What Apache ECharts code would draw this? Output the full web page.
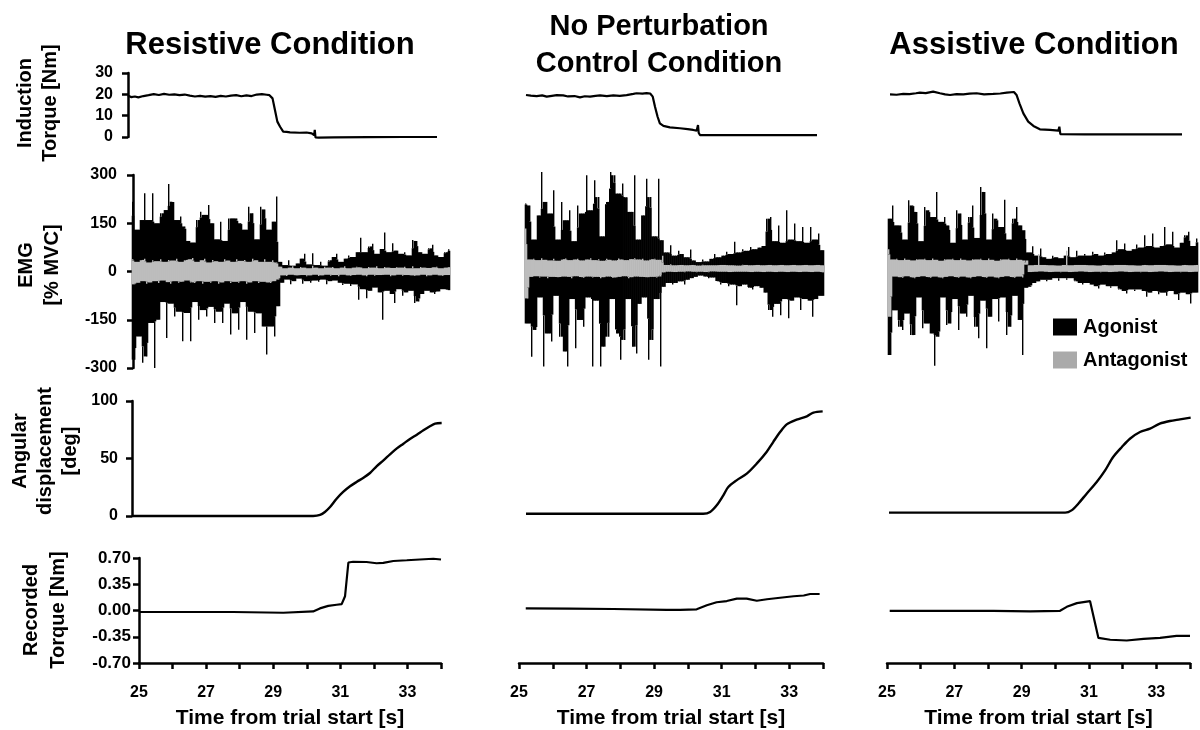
<!DOCTYPE html>
<html><head><meta charset="utf-8">
<script src="https://cdn.jsdelivr.net/npm/echarts@6/dist/echarts.min.js"></script>
<style>html,body{margin:0;padding:0;background:#fff}#c{width:1200px;height:730px}</style>
</head><body><div id="c"></div>
<script>
// ---------- DATA ----------
const conditions = ['Resistive Condition', 'No Perturbation\nControl Condition', 'Assistive Condition'];
const timeTicks = [25, 27, 29, 31, 33];

// Induction torque [Nm]  ([time s, value])
const indResistive = [[25.0,19.3],[25.1,18.7],[25.2,19.0],[25.3,18.6],[25.45,19.2],[25.6,19.6],[25.75,20.1],[25.9,19.7],[26.05,20.2],[26.2,19.8],[26.35,20.0],[26.5,19.6],[26.65,19.9],[26.8,19.4],[26.95,19.0],[27.1,19.3],[27.25,18.9],[27.4,19.2],[27.55,18.8],[27.7,19.3],[27.85,19.0],[28.0,19.4],[28.15,19.6],[28.3,19.1],[28.45,19.5],[28.6,19.2],[28.75,19.9],[28.9,20.1],[29.04,19.8],[29.12,19.6],[29.21,18.1],[29.28,12.7],[29.35,7.2],[29.43,4.8],[29.52,2.5],[29.62,2.4],[29.72,2.2],[30.0,2.0],[30.2,2.1],[30.35,1.7],[30.42,0.9],[30.44,3.3],[30.46,-0.2],[30.55,-0.3],[31.0,-0.2],[32.0,-0.1],[33.0,0],[34.0,0]];
const indControl = [[25.0,19.7],[25.15,19.4],[25.33,19.2],[25.5,19.5],[25.64,18.9],[25.8,19.3],[25.95,19.6],[26.15,19.5],[26.3,19.0],[26.5,19.2],[26.67,18.6],[26.82,19.1],[26.98,18.9],[27.15,19.3],[27.29,19.5],[27.5,19.2],[27.7,19.5],[27.9,19.3],[28.11,19.6],[28.32,20.2],[28.42,20.5],[28.6,20.3],[28.73,20.6],[28.84,20.4],[28.92,18.9],[28.99,14.2],[29.07,9.5],[29.14,6.4],[29.25,5.2],[29.45,4.5],[29.76,4.1],[30.0,3.7],[30.17,3.3],[30.28,3.0],[30.32,5.6],[30.34,2.0],[30.38,0.9],[30.79,0.9],[32.0,0.9],[34.0,0.9]];
const indAssistive = [[25.0,20.0],[25.2,19.8],[25.41,20.2],[25.6,20.1],[25.8,20.5],[25.92,20.8],[26.1,20.6],[26.33,21.25],[26.54,20.5],[26.7,20.0],[26.85,19.7],[27.05,20.1],[27.26,20.0],[27.45,20.3],[27.67,20.5],[27.9,20.0],[28.18,20.2],[28.4,20.4],[28.6,20.8],[28.82,21.1],[28.9,19.7],[28.99,15.8],[29.11,11.1],[29.26,7.2],[29.42,5.2],[29.62,3.6],[29.93,3.3],[30.19,3.0],[30.22,4.8],[30.25,1.3],[30.29,1.25],[31.0,1.25],[32.0,1.25],[34.0,1.25]];

// EMG [% MVC], agonist (black) and antagonist (grey), successive samples
const emgAgoResistive = [217,-274,130,-202,160,-284,243,-264,160,-160,
243,-300,150,-150,181,-95,191,-207,272,-100,
217,-140,160,-125,171,-217,140,-129,95,-217,
90,-95,160,-150,186,-120,176,-140,207,-110,
150,-160,100,-125,155,-160,95,-100,165,-196,
165,-130,165,-181,150,-95,130,-212,201,-125,
181,-191,100,-130,201,-171,193,-258,130,-171,
155,-202,233,-108,
30,-35,20,-25,35,-40,18,-30,25,-22,
40,-38,55,-30,22,-35,57,-28,20,-32,
30,-25,18,-40,35,-30,45,-28,55,-35,
30,-42,40,-38,50,-45,45,-40,60,-88,
105,-55,60,-83,78,-60,86,-50,55,-65,
70,-150,121,-60,60,-70,88,-98,65,-55,
55,-75,60,-65,50,-60,98,-98,95,-93,
60,-70,55,-60,72,-65,83,-70,50,-62,
45,-55,60,-58,69];
const emgAntResistive = [38,-40,30,-35,36,-30,40,-38,28,-34,
35,-30,32,-36,38,-28,30,-33,36,-38,
34,-30,40,-35,30,-32,36,-28,38,-34,
42,-36,30,-30,35,-38,40,-32,28,-35,
36,-30,32,-38,30,-34,38,-30,34,-36,
30,-32,38,-35,33,-30,36,-38,30,-34,
40,-30,35,-36,30,-32,38,-34,30,-36,
35,-30,28,-25,
15,-12,10,-14,12,-10,16,-12,10,-13,
14,-11,12,-15,10,-12,18,-10,12,-14,
10,-12,15,-10,12,-13,14,-11,10,-15,
12,-10,16,-12,10,-14,12,-11,15,-10,
13,-12,10,-15,14,-10,12,-13,16,-11,
10,-12,14,-10,12,-15,11,-12,14,-10,
12,-13,15,-11,10,-12,16,-14,10,-12,
14,-10,12,-15,11,-12,13,-10,15,-12,
10,-14,12,-11,15];
const emgAgoControl = [202,-171,196,-274,90,-191,165,-90,300,-305,
207,-202,171,-227,243,-85,90,-212,207,-258,
150,-305,181,-95,85,-248,196,-160,171,-181,
290,-90,181,-305,274,-100,222,-305,100,-243,
207,-212,300,-95,290,-202,233,-284,264,-222,
222,-95,176,-243,290,-264,90,-110,165,-90,
279,-284,222,-222,100,-95,279,-305,
88,-57,50,-45,72,-50,40,-45,55,-40,
45,-50,35,-35,59,-30,25,-26,20,-22,
28,-25,22,-30,30,-28,45,-40,35,-50,
40,-45,52,-55,45,-50,83,-114,50,-55,
60,-50,55,-60,67,-65,60,-55,65,-60,
70,-75,155,-129,160,-150,85,-110,134,-145,
80,-95,181,-155,90,-100,140,-90,85,-129,
129,-95,80,-100,129,-150,90,-95,109,-85,
57];
const emgAntControl = [124,-93,28,-26,30,-24,26,-28,32,-25,
27,-30,25,-26,30,-28,24,-27,29,-25,
31,-26,26,-30,28,-24,30,-27,25,-29,
28,-25,32,-28,26,-26,29,-30,24,-27,
30,-25,27,-29,25,-28,31,-26,28,-24,
26,-30,29,-27,32,-25,28,-26,30,-28,
25,-27,29,-26,30,-28,27,-25,
40,-12,11,-10,13,-12,10,-11,12,-10,
11,-12,10,-9,12,-10,11,-12,9,-10,
12,-11,10,-12,11,-9,10,-11,12,-10,
11,-10,12,-11,10,-12,11,-10,9,-11,
12,-10,11,-12,10,-11,12,-10,11,-12,
10,-11,12,-10,11,-12,10,-11,12,-10,
11,-12,10,-11,12,-10,11,-12,10,-11,
12,-10,11,-12,10,-11,12,-10,11,-12,
10];
const emgAgoAssistive = [155,-269,196,-130,134,-181,134,-191,90,-140,
212,-207,196,-207,176,-90,85,-186,191,-171,
181,-202,160,-302,238,-212,145,-90,160,-176,
134,-171,80,-95,181,-191,171,-140,90,-150,
160,-85,196,-181,95,-217,253,-100,238,-248,
90,-150,171,-95,155,-165,129,-90,214,-207,
90,-181,155,-85,191,-160,134,-269,119,
-60,50,-57,69,-45,40,-40,62,-35,35,
-40,30,-35,40,-30,35,-38,32,-30,40,
-35,67,-30,35,-40,55,-45,40,-50,45,
-45,40,-50,52,-55,45,-62,40,-50,50,
-55,45,-60,50,-55,88,-65,60,-70,78,
-78,55,-65,60,-70,75,-65,65,-70,103,
-88,70,-75,109,-70,65,-80,70,-75,129,
-85,75,-70,114,-80,65,-98,80,-75,103,
-80,114,-109,70,-75,93];
const emgAntAssistive = [60,-150,28,-25,30,-27,26,-29,31,-24,
27,-28,25,-30,29,-26,28,-24,30,-27,
26,-29,31,-25,27,-28,24,-30,29,-26,
28,-24,30,-27,26,-29,31,-25,27,-28,
25,-30,29,-26,28,-24,30,-27,26,-29,
31,-25,27,-28,24,-30,29,-26,28,-24,
30,-27,26,-29,31,-25,27,-28,25,
12,-11,10,-12,11,-10,45,-9,11,-10,
12,-11,10,-12,11,-10,9,-12,11,-10,
55,-11,10,-12,11,-10,12,-9,11,-10,
12,-11,10,-12,11,-10,9,-12,11,-10,
12,-11,10,-12,11,-10,12,-9,11,-10,
12,-11,10,-12,11,-10,9,-12,11,-10,
12,-11,10,-12,11,-10,12,-9,11,-10,
12,-11,10,-12,11,-10,9,-12,11,-10,
12,-11,10,-12,11,-10];

// Angular displacement [deg]
const angResistive = [[25.0,0],[30.26,0],[30.46,0.9],[30.6,3.5],[30.75,7.8],[30.94,15],[31.13,20.9],[31.33,25.8],[31.52,29.6],[31.72,33.3],[31.91,37.4],[32.1,43.2],[32.3,48.4],[32.49,53.6],[32.68,58.6],[32.88,62.9],[33.07,67],[33.27,70.7],[33.46,74.5],[33.65,78],[33.8,80.3],[33.99,80.9]];
const angControl = [[25.0,2.0],[30.37,2.0],[30.58,3.5],[30.78,9.3],[30.98,18],[31.13,25.2],[31.38,31],[31.69,36.8],[31.99,45.5],[32.29,55.7],[32.49,64.3],[32.7,73],[32.9,79.7],[33.2,83.8],[33.51,86.7],[33.71,89.9],[33.99,91]];
const angAssistive = [[25.0,2.9],[30.25,2.9],[30.44,4.9],[30.64,10.7],[30.89,19.4],[31.19,29.6],[31.44,39.7],[31.68,51.3],[31.94,60],[32.18,67.2],[32.48,73],[32.78,75.9],[33.07,80.3],[33.37,82.6],[33.67,84],[33.99,85.5]];

// Recorded torque [Nm]
const recResistive = [[25.02,-0.02],[26.5,-0.02],[27.8,-0.02],[29.3,-0.03],[30.19,-0.012],[30.39,0.028],[30.64,0.061],[30.89,0.077],[31.04,0.085],[31.14,0.19],[31.24,0.64],[31.38,0.65],[31.78,0.647],[32.08,0.63],[32.28,0.635],[32.58,0.66],[32.98,0.67],[33.37,0.68],[33.77,0.69],[34.0,0.68]];
const recControl = [[25.2,0.028],[26.5,0.025],[27.79,0.02],[29.37,0.008],[29.77,0.008],[30.26,0.016],[30.56,0.069],[30.85,0.11],[31.15,0.126],[31.45,0.159],[31.74,0.159],[32.04,0.13],[32.34,0.15],[32.73,0.17],[33.13,0.19],[33.43,0.2],[33.62,0.22],[33.9,0.22]];
const recAssistive = [[25.08,-0.004],[28.16,-0.004],[29.25,-0.012],[30.14,-0.004],[30.34,0.049],[30.64,0.098],[31.03,0.126],[31.08,0.118],[31.28,-0.366],[31.63,-0.39],[32.12,-0.4],[32.62,-0.378],[33.11,-0.366],[33.6,-0.338],[34.0,-0.338]];

// ---------- LAYOUT ----------
const FONT = '"Liberation Sans", Arial, Helvetica, sans-serif';
const cols = [
  {ind:[128,73,309,64], emg:[133,175,316,193], ang:[132,401,310,115], rec:[139,558,302,115], showY:true,
   indData:indResistive, ago:emgAgoResistive, ant:emgAntResistive, angData:angResistive, recData:recResistive},
  {ind:[526,73,291,64], emg:[526,172,297,193], ang:[526,401,297,115], rec:[519,558,304,115], showY:false,
   indData:indControl, ago:emgAgoControl, ant:emgAntControl, angData:angControl, recData:recControl},
  {ind:[890,73,292,64], emg:[889,172,308,193], ang:[889,401,302,115], rec:[887,558,303,115], showY:false,
   indData:indAssistive, ago:emgAgoAssistive, ant:emgAntAssistive, angData:angAssistive, recData:recAssistive}
];

const grid = [], xAxis = [], yAxis = [], series = [];
const lineBlack = {color:'#000', width:2.5};
const tickStyle = {show:true, length:6, inside:false, lineStyle:{color:'#000', width:2.5}};
const labelStyle = {fontFamily:FONT, fontWeight:'bold', fontSize:16, color:'#000'};

function addGrid(b){ grid.push({left:b[0], top:b[1], width:b[2], height:b[3], containLabel:false}); return grid.length-1; }
function addY(gi, show, min, max, interval, margin, fmt, fs){
  yAxis.push({type:'value', gridIndex:gi, min:min, max:max, interval:interval, show:show,
    axisLine:{show:true, onZero:false, lineStyle:lineBlack}, axisTick:tickStyle,
    axisLabel:Object.assign({}, labelStyle, {margin:margin, formatter:fmt, fontSize:fs||16}), splitLine:{show:false}});
  return yAxis.length-1;
}
function addTimeX(gi, show){
  xAxis.push({type:'value', gridIndex:gi, min:25, max:34, interval:1, show:show,
    axisLine:{show:true, onZero:false, lineStyle:lineBlack}, axisTick:tickStyle,
    axisLabel:Object.assign({margin:22, formatter:v => timeTicks.indexOf(v) >= 0 ? String(v) : ''}, labelStyle),
    splitLine:{show:false},
    name: show ? 'Time from trial start [s]' : '', nameLocation:'middle', nameGap:45,
    nameTextStyle:{fontFamily:FONT, fontWeight:'bold', fontSize:21, color:'#000'}});
  return xAxis.length-1;
}
function addCatX(gi, n){
  const idx = []; for (let i = 0; i < n; i++) idx.push(i);
  xAxis.push({type:'category', gridIndex:gi, data:idx, boundaryGap:false, show:false, axisLine:{onZero:false}});
  return xAxis.length-1;
}
function trace(name, xi, yi, data, color, width, smooth, z){
  series.push({type:'line', name:name, xAxisIndex:xi, yAxisIndex:yi, data:data, symbol:'none', showSymbol:false,
    smooth:smooth||false, clip:false, silent:true, z:z||2, sampling:null,
    lineStyle:{color:color, width:width}, itemStyle:{color:color}});
}
// EMG: dense raw trace at pixel resolution. Each sample fills its column from the opposite-side
// neighbour up to the local envelope (solid core), and a thin stroke carries the rest of the spike.
function emgTrace(name, xi, yi, arr, color, z){
  const n = arr.length;
  const data = arr.map((v, i) => {
    const a = i > 0 ? arr[i-1] : arr[i+1];
    const b = i < n-1 ? arr[i+1] : arr[i-1];
    const other = v >= 0 ? Math.max(a, b) : Math.min(a, b);
    const s1 = i > 1 ? arr[i-2] : v, s2 = i < n-2 ? arr[i+2] : v;
    const m = Math.min(Math.abs(v), (Math.abs(s1) + Math.abs(s2)) / 2);
    const core = v >= 0 ? m : -m;
    return [i, v, other, core];
  });
  series.push({type:'custom', name:name, xAxisIndex:xi, yAxisIndex:yi, data:data, z:z, silent:true, clip:false,
    itemStyle:{color:color}, encode:{x:0, y:[1,2]},
    renderItem:(params, api) => {
      const i = api.value(0);
      const pv = api.coord([i, api.value(1)]);
      const po = api.coord([i, api.value(2)]);
      const pc = api.coord([i, api.value(3)]);
      const w = api.size([1, 0])[0];
      const kids = [];
      kids.push({type:'rect', shape:{x:pv[0]-w/2-0.3, y:Math.min(po[1], pc[1]), width:w+0.6, height:Math.max(Math.abs(po[1]-pc[1]), 1)}, style:{fill:color}});
      const h2 = Math.abs(pv[1]-pc[1]);
      if (h2 > 0.5) kids.push({type:'rect', shape:{x:Math.round(pv[0]-0.7), y:Math.min(pv[1], pc[1]), width:1.4, height:h2}, style:{fill:color}});
      return {type:'group', children:kids};
    }});
}

cols.forEach(c => {
  // induction torque
  let g = addGrid(c.ind);
  let x = addTimeX(g, false);
  let y = addY(g, c.showY, 0, 30, 10, 15, v => String(v));
  trace('Induction Torque', x, y, c.indData, '#000', 2.2);
  // EMG
  g = addGrid(c.emg);
  const xa = addCatX(g, c.ago.length);
  const xb = addCatX(g, c.ant.length);
  y = addY(g, c.showY, -300, 300, 150, 16, v => String(v));
  emgTrace('Agonist', xa, y, c.ago, '#000', 2);
  emgTrace('Antagonist', xb, y, c.ant, '#bdbdbd', 3);
  // angular displacement
  g = addGrid(c.ang);
  x = addTimeX(g, false);
  y = addY(g, c.showY, 0, 100, 50, 14, v => String(v));
  trace('Angular displacement', x, y, c.angData, '#000', 2.4, 0.3);
  // recorded torque
  g = addGrid(c.rec);
  x = addTimeX(g, true);
  y = addY(g, c.showY, -0.7, 0.7, 0.35, 8, v => (Math.abs(v) < 1e-9 ? 0 : v).toFixed(2), 17);
  trace('Recorded Torque', x, y, c.recData, '#000', 2.2);
});

const titleFont = s => 'bold ' + s + 'px ' + FONT;
const graphic = [
  {type:'text', x:270, y:45, style:{text:conditions[0], font:titleFont(31), fill:'#000', align:'center', verticalAlign:'middle'}},
  {type:'text', x:659, y:45, style:{text:conditions[1], font:titleFont(29), lineHeight:37, fill:'#000', align:'center', verticalAlign:'middle'}},
  {type:'text', x:1034, y:45, style:{text:conditions[2], font:titleFont(31), fill:'#000', align:'center', verticalAlign:'middle'}},
  {type:'text', x:38, y:103, rotation:Math.PI/2, style:{text:'Induction\nTorque [Nm]', font:titleFont(20), lineHeight:25, fill:'#000', align:'center', verticalAlign:'middle'}},
  {type:'text', x:39, y:265, rotation:Math.PI/2, style:{text:'EMG\n[% MVC]', font:titleFont(20), lineHeight:26, fill:'#000', align:'center', verticalAlign:'middle'}},
  {type:'text', x:45, y:451, rotation:Math.PI/2, style:{text:'Angular\ndisplacement\n[deg]', font:titleFont(20), lineHeight:25, fill:'#000', align:'center', verticalAlign:'middle'}},
  {type:'text', x:45, y:610, rotation:Math.PI/2, style:{text:'Recorded\nTorque [Nm]', font:titleFont(20), lineHeight:27, fill:'#000', align:'center', verticalAlign:'middle'}}
];

const chart = echarts.init(document.getElementById('c'), null, {renderer:'canvas'});
chart.setOption({
  animation:false,
  backgroundColor:'#fff',
  grid:grid, xAxis:xAxis, yAxis:yAxis, series:series, graphic:graphic,
  legend:{left:1048, top:312, orient:'vertical', itemWidth:24, itemHeight:17, itemGap:13, icon:'rect', selectedMode:false,
    itemStyle:{borderWidth:0}, lineStyle:{width:0},
    textStyle:{fontFamily:FONT, fontWeight:'bold', fontSize:20, color:'#000', padding:[0,0,0,1]},
    data:[{name:'Agonist', itemStyle:{color:'#000'}}, {name:'Antagonist', itemStyle:{color:'#aaaaaa'}}]}
});
</script>
</body></html>
